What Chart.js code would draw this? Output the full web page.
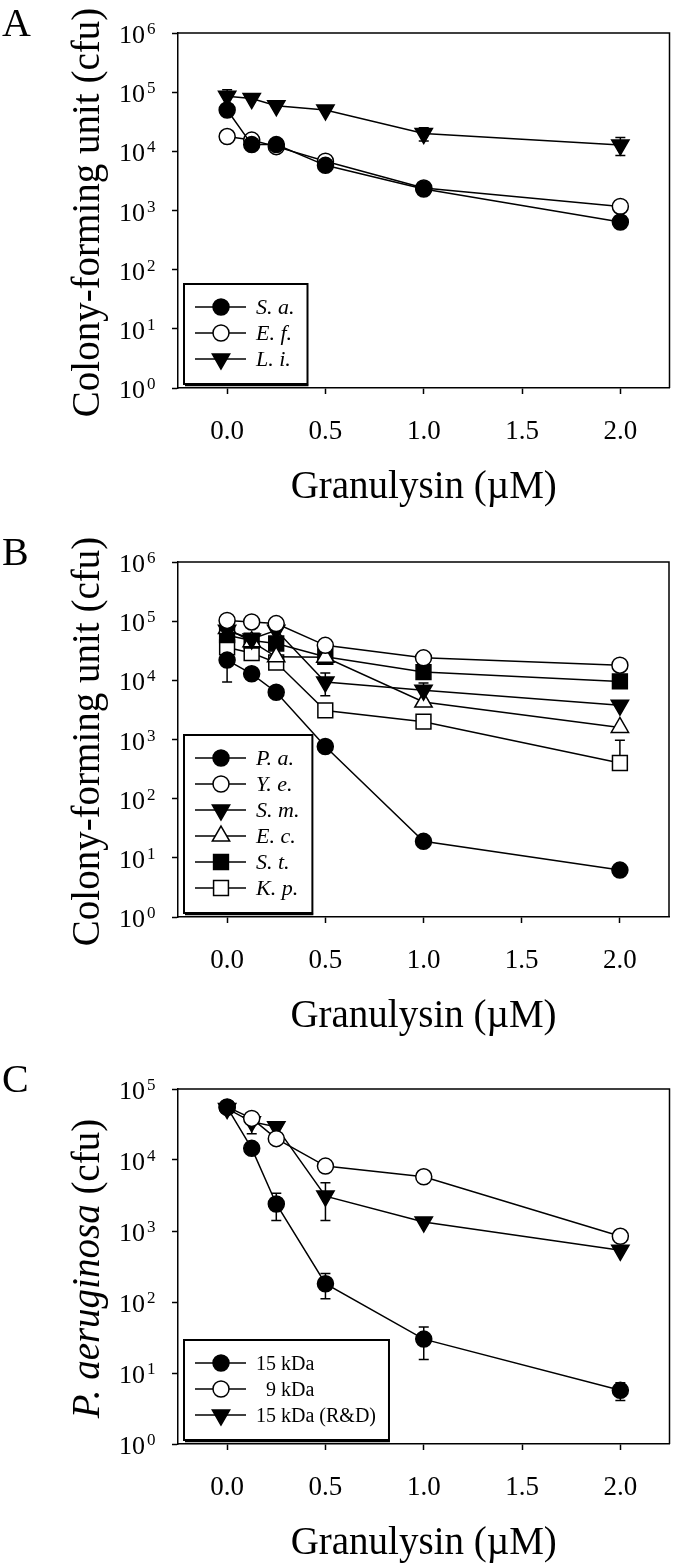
<!DOCTYPE html>
<html>
<head>
<meta charset="utf-8">
<title>Granulysin cfu</title>
<script src="https://cdn.jsdelivr.net/npm/chart.js@4.4.1/dist/chart.umd.min.js"></script>
<style>
  body{margin:0;background:#fff;width:681px;height:1565px;position:relative;overflow:hidden}
  .panel{position:absolute;left:0;width:681px;height:509px}
</style>
</head>
<body>
<div class="panel" style="top:0"><canvas id="chartA" width="681" height="509"></canvas></div>
<div class="panel" style="top:529px"><canvas id="chartB" width="681" height="509"></canvas></div>
<div class="panel" style="top:1056px"><canvas id="chartC" width="681" height="509"></canvas></div>
<script>
// shared x values (granulysin, uM) and axis ticks
const doses = [0, 0.125, 0.25, 0.5, 1, 2];
const xTicks = [0, 0.5, 1, 1.5, 2];
const xTickLabels = ['0.0', '0.5', '1.0', '1.5', '2.0'];
const yTicksAB = [1, 10, 100, 1e3, 1e4, 1e5, 1e6];
const yTicksC = [1, 10, 100, 1e3, 1e4, 1e5];
const xTitle = 'Granulysin (\u00b5M)';

// panel A - gram positive
const labelsA = ['S. a.', 'E. f.', 'L. i.'];
const saA = [5.0e4, 1.3e4, 1.3e4, 5.8e3, 2.3e3, 640];
const efA = [1.78e4, 1.55e4, 1.2e4, 6.8e3, 2.4e3, 1.17e3];
const liA = [8.5e4, 7.8e4, 5.9e4, 5.0e4, 2.0e4, 1.28e4];
const liAErr = [2.5e4, null, null, null, 5e3, 4.3e3];

// panel B - gram negative
const labelsB = ['P. a.', 'Y. e.', 'S. m.', 'E. c.', 'S. t.', 'K. p.'];
const paB = [2.2e4, 1.29e4, 6.3e3, 760, 19, 6.2];
const paBErr = [1.26e4, null, null, null, null, null];
const yeB = [1.03e5, 9.7e4, 9.1e4, 3.9e4, 2.4e4, 1.8e4];
const smB = [7.0e4, 5.0e4, 7.0e4, 9.4e3, 6.8e3, 3.8e3];
const smBErr = [null, null, null, 3.9e3, 2.2e3, null];
const ecB = [7.5e4, 4.5e4, 2.5e4, 2.45e4, 4.3e3, 1.6e3];
const stB = [5.8e4, 4.7e4, 4.2e4, 2.5e4, 1.38e4, 9.6e3];
const kpB = [3.6e4, 2.9e4, 2.0e4, 3.1e3, 2.0e3, 400];
const kpBErr = [null, null, null, null, null, 570];

// panel C - P. aeruginosa, granulysin forms
const labelsC = ['15 kDa', '  9 kDa', '15 kDa (R&D)'];
const kda15C = [5.5e4, 1.46e4, 2.4e3, 181, 30, 5.7];
const kda15CErr = [null, null, 1.0e3, 70, 14.5, 1.6];
const kda9C = [5.6e4, 3.85e4, 2.0e4, 8.2e3, 5.8e3, 843];
const rndC = [5.3e4, 3.45e4, 2.93e4, 3.1e3, 1.34e3, 535];
const rndCErr = [null, 1.1e4, null, 1.7e3, null, null];

const SERIF = '"Liberation Serif", "Times New Roman", serif';

// marker styles
const M = {
  dot:   {pointStyle:'circle', rotation:0, r:8, fill:'#000'},
  ring:  {pointStyle:'circle', rotation:0, r:8, fill:'#fff'},
  tdown: {pointStyle:'triangle', rotation:180, r:10, fill:'#000'},
  tup:   {pointStyle:'triangle', rotation:0, r:10, fill:'#fff'},
  sq:    {pointStyle:'rect', rotation:0, r:10.5, fill:'#000'},
  osq:   {pointStyle:'rect', rotation:0, r:10.5, fill:'#fff'}
};

function series(label, vals, m, errs){
  return {
    label, errors: errs || null, marker: m,
    data: doses.map((x,i)=>({x, y: vals[i]})),
    borderColor:'#000', borderWidth:1.5, tension:0, fill:false,
    pointStyle:m.pointStyle, pointRotation:m.rotation, pointRadius:m.r,
    pointBackgroundColor:m.fill, pointBorderColor:'#000', pointBorderWidth:1.5,
    pointHoverRadius:m.r
  };
}

function drawMarker(ctx, m, x, y){
  ctx.save();
  ctx.fillStyle = m.fill; ctx.strokeStyle = '#000'; ctx.lineWidth = 1.5;
  ctx.beginPath();
  if(m.pointStyle==='circle'){ ctx.arc(x, y, m.r, 0, Math.PI*2); }
  else if(m.pointStyle==='rect'){ const s = m.r*Math.SQRT1_2; ctx.rect(x-s, y-s, 2*s, 2*s); }
  else {
    let a = m.rotation*Math.PI/180;
    ctx.moveTo(x+Math.sin(a)*m.r, y-Math.cos(a)*m.r);
    a += 2*Math.PI/3; ctx.lineTo(x+Math.sin(a)*m.r, y-Math.cos(a)*m.r);
    a += 2*Math.PI/3; ctx.lineTo(x+Math.sin(a)*m.r, y-Math.cos(a)*m.r);
    ctx.closePath();
  }
  ctx.fill(); ctx.stroke();
  ctx.restore();
}

// error bars under the markers
const errorBars = {
  id:'errorBars',
  beforeDatasetsDraw(chart){
    const ctx = chart.ctx, xs = chart.scales.x, ys = chart.scales.y;
    ctx.save(); ctx.strokeStyle='#000'; ctx.lineWidth=1.5;
    chart.data.datasets.forEach(ds=>{
      if(!ds.errors) return;
      ds.errors.forEach((e,i)=>{
        if(e==null) return;
        const v = ds.data[i].y, px = xs.getPixelForValue(ds.data[i].x);
        const py = ys.getPixelForValue(v);
        const up = ys.getPixelForValue(v+e);
        ctx.beginPath(); ctx.moveTo(px, py); ctx.lineTo(px, up);
        ctx.moveTo(px-5, up); ctx.lineTo(px+5, up);
        if(v-e>0){
          const dn = ys.getPixelForValue(v-e);
          ctx.moveTo(px, py); ctx.lineTo(px, dn);
          ctx.moveTo(px-5, dn); ctx.lineTo(px+5, dn);
        }
        ctx.stroke();
      });
    });
    ctx.restore();
  }
};

// frame, y tick labels with exponents, titles, letter, legend box
const decor = {
  id:'decor',
  afterDraw(chart, args, opts){
    const ctx = chart.ctx, a = chart.chartArea, ys = chart.scales.y;
    ctx.save();
    ctx.strokeStyle='#000'; ctx.lineWidth=1.5;
    ctx.beginPath(); ctx.moveTo(a.left, a.top); ctx.lineTo(a.right, a.top); ctx.lineTo(a.right, a.bottom); ctx.stroke();

    ctx.fillStyle='#000';
    ys.ticks.forEach(t=>{
      const py = ys.getPixelForValue(t.value);
      const e = Math.round(Math.log10(t.value));
      ctx.font = '26px '+SERIF; ctx.textAlign='right'; ctx.textBaseline='alphabetic';
      ctx.fillText('10', 145, py+10);
      ctx.font = '17px '+SERIF; ctx.textAlign='left';
      ctx.fillText(String(e), 147, py+1);
    });

    // panel letter
    ctx.font = '40px '+SERIF; ctx.textAlign='left';
    ctx.fillText(opts.letter, 2, 36);

    // x title
    ctx.font = '39px '+SERIF; ctx.textAlign='center';
    ctx.fillText(xTitle, (a.left+a.right)/2, 498);

    // y title (rotated, mixed italic)
    ctx.save();
    ctx.translate(99, (a.top+a.bottom)/2+2); ctx.rotate(-Math.PI/2);
    let w = 0;
    opts.yTitle.forEach(s=>{ ctx.font=(s.i?'italic ':'')+'39px '+SERIF; w += ctx.measureText(s.t).width; });
    let cx = -w/2; ctx.textAlign='left';
    opts.yTitle.forEach(s=>{ ctx.font=(s.i?'italic ':'')+'39px '+SERIF; ctx.fillText(s.t, cx, 0); cx += ctx.measureText(s.t).width; });
    ctx.restore();

    // legend
    const dss = chart.data.datasets, n = dss.length, step = 26;
    const bottom = a.bottom-4, lastRow = bottom-25, top = lastRow-(n-1)*step-23;
    ctx.font = (opts.legendItalic?'italic ':'')+opts.legendSize+'px '+SERIF;
    let tw = 0; dss.forEach(d=>{ tw = Math.max(tw, ctx.measureText(d.label).width); });
    const left = 184, right = 256+tw+13;
    ctx.lineWidth = 2; ctx.strokeRect(left, top, right-left, bottom-top);
    ctx.lineWidth = 1.5; ctx.beginPath(); ctx.moveTo(left+1, bottom+1.5); ctx.lineTo(right+1, bottom+1.5); ctx.stroke();
    dss.forEach((d,i)=>{
      const ry = lastRow-(n-1-i)*step;
      ctx.lineWidth=1.5; ctx.beginPath(); ctx.moveTo(195, ry); ctx.lineTo(246, ry); ctx.stroke();
      drawMarker(ctx, d.marker, 221, ry);
      ctx.fillStyle='#000'; ctx.textAlign='left'; ctx.textBaseline='alphabetic';
      ctx.font = (opts.legendItalic?'italic ':'')+opts.legendSize+'px '+SERIF;
      ctx.fillText(d.label, 256, ry+7);
    });
    ctx.restore();
  }
};

function makePanel(id, datasets, yTicks, decorOpts){
  const axisGrid = {drawOnChartArea:false, drawTicks:true, tickLength:6, tickWidth:1.5, tickColor:'#000', color:'#000'};
  const axisBorder = {display:true, color:'#000', width:1.5};
  return new Chart(document.getElementById(id), {
    type:'line',
    data:{datasets},
    plugins:[errorBars, decor],
    options:{
      responsive:false, animation:false, devicePixelRatio:1,
      layout:{padding:{top:33, right:10, left:0, bottom:0}},
      plugins:{legend:{display:false}, tooltip:{enabled:false}, decor:decorOpts},
      scales:{
        x:{
          type:'linear', min:-0.25, max:2.25,
          afterBuildTicks:s=>{ s.ticks = xTicks.map(v=>({value:v})); },
          afterFit:s=>{ s.height = 121; },
          ticks:{callback:(v,i)=>xTickLabels[i], font:{family:SERIF, size:27}, color:'#000', padding:22, maxRotation:0, autoSkip:false},
          grid:axisGrid, border:axisBorder
        },
        y:{
          type:'logarithmic', min:yTicks[0], max:yTicks[yTicks.length-1],
          afterBuildTicks:s=>{ s.ticks = yTicks.map(v=>({value:v})); },
          afterFit:s=>{ s.width = 178; },
          ticks:{display:false},
          grid:axisGrid, border:axisBorder
        }
      }
    }
  });
}

makePanel('chartA', [
  series(labelsA[0], saA, M.dot),
  series(labelsA[1], efA, M.ring),
  series(labelsA[2], liA, M.tdown, liAErr)
], yTicksAB, {letter:'A', yTitle:[{t:'Colony-forming unit (cfu)', i:false}], legendItalic:true, legendSize:22});

makePanel('chartB', [
  series(labelsB[0], paB, M.dot, paBErr),
  series(labelsB[1], yeB, M.ring),
  series(labelsB[2], smB, M.tdown, smBErr),
  series(labelsB[3], ecB, M.tup),
  series(labelsB[4], stB, M.sq),
  series(labelsB[5], kpB, M.osq, kpBErr)
], yTicksAB, {letter:'B', yTitle:[{t:'Colony-forming unit (cfu)', i:false}], legendItalic:true, legendSize:22});

makePanel('chartC', [
  series(labelsC[0], kda15C, M.dot, kda15CErr),
  series(labelsC[1], kda9C, M.ring),
  series(labelsC[2], rndC, M.tdown, rndCErr)
], yTicksC, {letter:'C', yTitle:[{t:'P. aeruginosa', i:true}, {t:' (cfu)', i:false}], legendItalic:false, legendSize:20});
</script>
</body>
</html>
